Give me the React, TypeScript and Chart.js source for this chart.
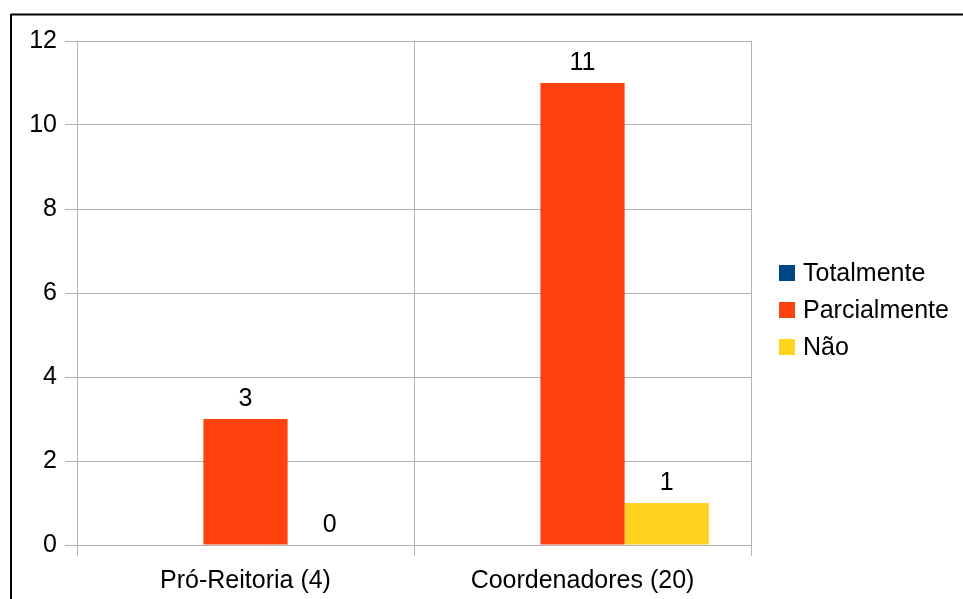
import React, { useEffect, useRef } from "react";
import { Chart, registerables } from "chart.js";

Chart.register(...registerables);

const categories = ["Pró-Reitoria (4)", "Coordenadores (20)"];
const seriesNames = ["Totalmente", "Parcialmente", "Não"];
const totalmente: (number | null)[] = [null, null];
const parcialmente: (number | null)[] = [3, 11];
const nao: (number | null)[] = [0, 1];
const seriesColors = ["#004586", "#ff420e", "#ffd320"];
const yTicks = [0, 2, 4, 6, 8, 10, 12];

const FONT = "'Liberation Sans', Arial, sans-serif";
const FONT_SIZE = 25;

// Value labels above each bar
const valueLabels = {
  id: "valueLabels",
  afterDatasetsDraw(chart: any) {
    const ctx = chart.ctx;
    ctx.save();
    ctx.font = `${FONT_SIZE}px ${FONT}`;
    ctx.fillStyle = "#000";
    ctx.textAlign = "center";
    ctx.textBaseline = "alphabetic";
    chart.data.datasets.forEach((ds: any, i: number) => {
      const meta = chart.getDatasetMeta(i);
      meta.data.forEach((bar: any, j: number) => {
        const v = ds.data[j];
        if (v === null || v === undefined) return;
        ctx.fillText(String(v), bar.x, bar.y - 13);
      });
    });
    ctx.restore();
  },
};

// Legend on the right plus the frame lines
const sideLegend = {
  id: "sideLegend",
  afterDraw(chart: any) {
    const ctx = chart.ctx;
    ctx.save();
    ctx.font = `${FONT_SIZE}px ${FONT}`;
    ctx.textBaseline = "middle";
    ctx.textAlign = "left";
    const x0 = chart.chartArea.right + 28;
    const yMid = (chart.chartArea.top + chart.chartArea.bottom) / 2;
    const step = 37;
    const n = chart.data.datasets.length;
    chart.data.datasets.forEach((ds: any, i: number) => {
      const cy = yMid + (i - (n - 1) / 2) * step + 17;
      ctx.fillStyle = ds.backgroundColor;
      ctx.fillRect(x0, cy - 8, 16, 16);
      ctx.fillStyle = "#000";
      ctx.fillText(ds.label, x0 + 24, cy + 1);
    });
    ctx.strokeStyle = "#000";
    ctx.lineWidth = 2;
    ctx.beginPath();
    ctx.moveTo(11, 14.5);
    ctx.lineTo(chart.width, 14.5);
    ctx.moveTo(11, 14);
    ctx.lineTo(11, chart.height);
    ctx.stroke();
    ctx.restore();
  },
};

export default function App() {
  const ref = useRef<HTMLCanvasElement>(null);

  useEffect(() => {
    if (!ref.current) return;
    const series = [totalmente, parcialmente, nao];
    const chart = new Chart(ref.current, {
      type: "bar",
      data: {
        labels: categories,
        datasets: seriesNames.map((name, i) => ({
          label: name,
          data: series[i],
          backgroundColor: seriesColors[i],
          borderWidth: 0,
          categoryPercentage: 0.75,
          barPercentage: 1,
        })),
      },
      options: {
        responsive: false,
        animation: false,
        devicePixelRatio: 1,
        layout: { padding: { left: 0, top: 41, right: 212, bottom: 0 } },
        plugins: {
          legend: { display: false },
          tooltip: { enabled: false },
        },
        scales: {
          x: {
            grid: {
              offset: true,
              color: "#b3b3b3",
              lineWidth: 1,
              tickLength: 11,
            },
            border: { color: "#b3b3b3" },
            ticks: {
              color: "#000",
              font: { family: FONT, size: FONT_SIZE },
              padding: 10,
              maxRotation: 0,
            },
            afterFit(scale: any) {
              scale.height = 54;
            },
          },
          y: {
            min: 0,
            max: 12,
            afterBuildTicks(scale: any) {
              scale.ticks = yTicks.map((v) => ({ value: v }));
            },
            grid: { color: "#b3b3b3", lineWidth: 1, tickLength: 12 },
            border: { color: "#b3b3b3" },
            ticks: {
              color: "#000",
              font: { family: FONT, size: FONT_SIZE },
              padding: 8,
            },
            afterFit(scale: any) {
              scale.width = 77;
            },
          },
        },
      },
      plugins: [valueLabels, sideLegend],
    });
    return () => chart.destroy();
  }, []);

  return (
    <div style={{ position: "absolute", left: 0, top: 0, width: 963, height: 599, background: "#fff" }}>
      <canvas ref={ref} width={963} height={599} style={{ display: "block" }} />
    </div>
  );
}
